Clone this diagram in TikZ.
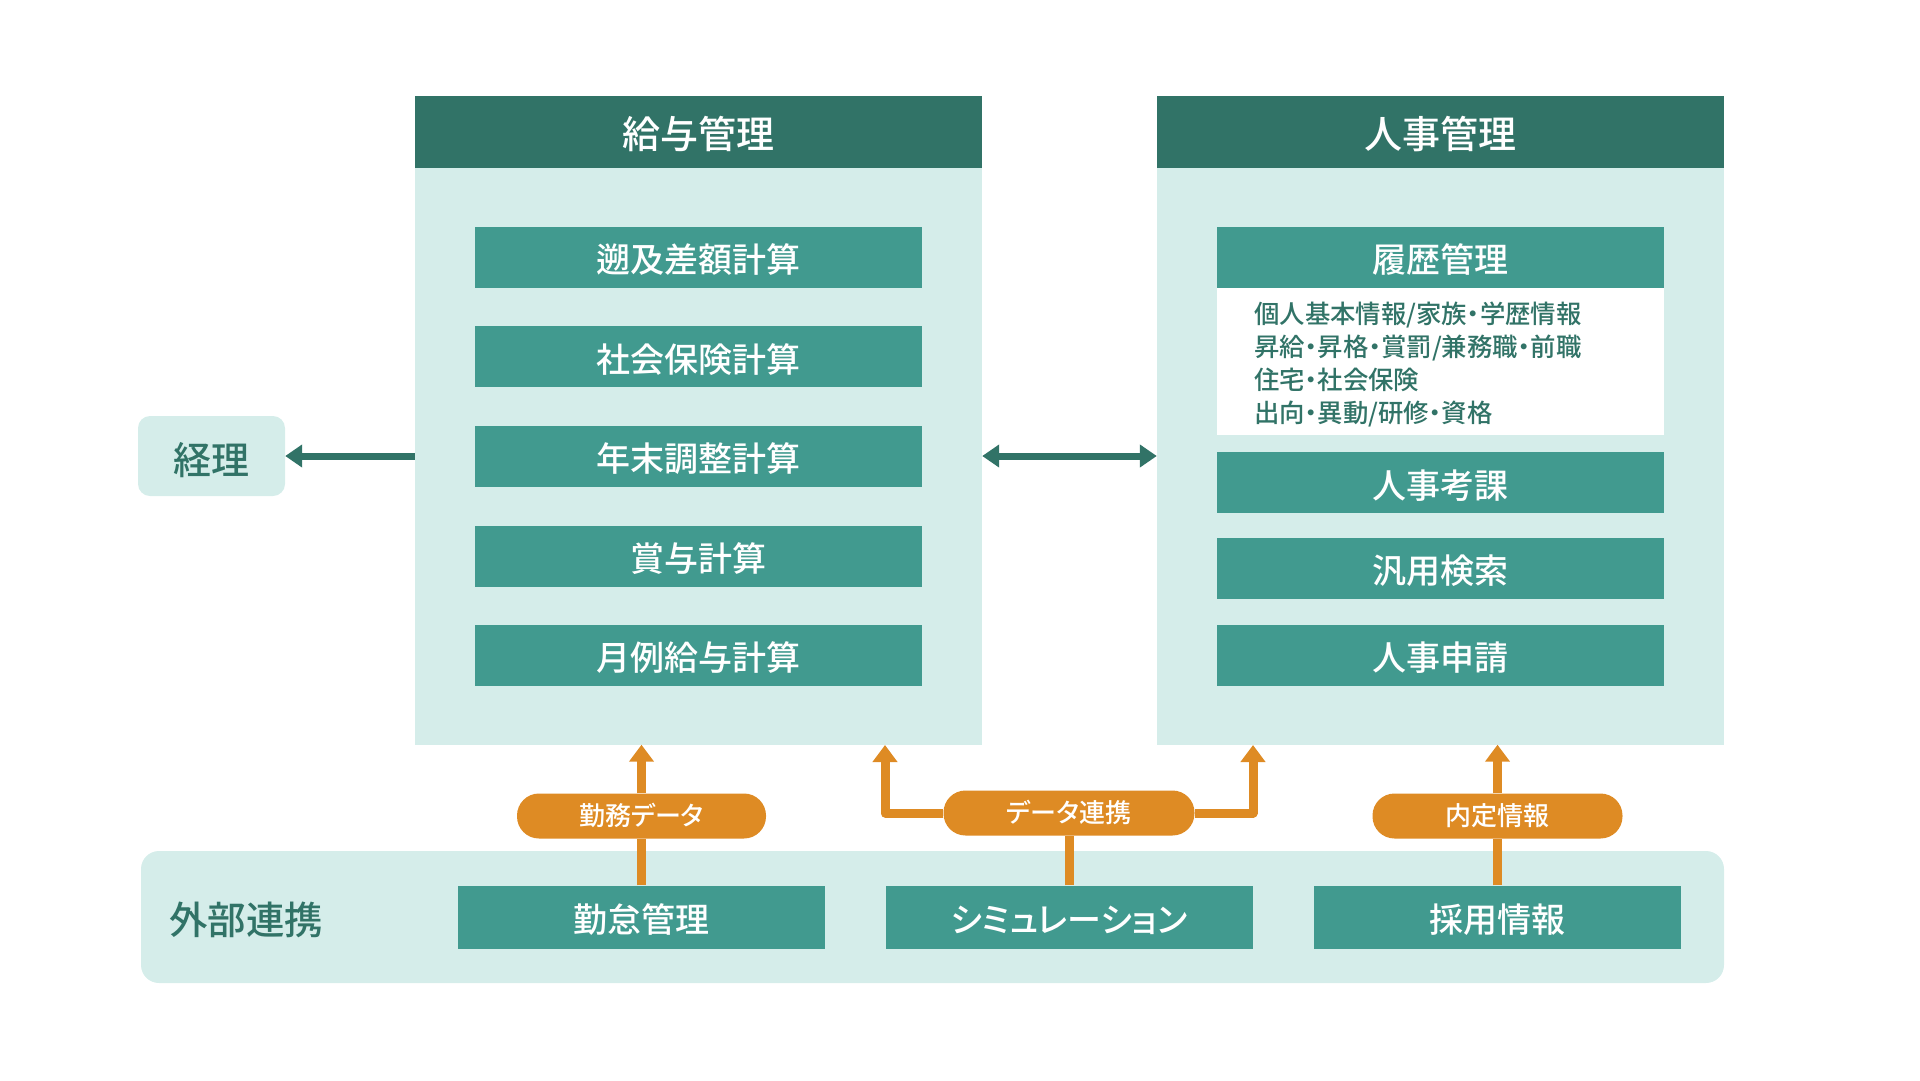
\documentclass[tikz,border=0pt]{standalone}
\usepackage{fontspec}
\setmainfont{Noto Sans CJK JP}[BoldFont={Noto Sans CJK JP Medium}, RawFeature=+palt]
\usetikzlibrary{arrows.meta}
\definecolor{dk}{HTML}{317367}
\definecolor{md}{HTML}{419A8F}
\definecolor{lt}{HTML}{D5EDEA}
\definecolor{og}{HTML}{DE8B24}
\tikzset{
  panel/.style={fill=lt, inner sep=0, minimum width=567pt, minimum height=649pt},
  head/.style={fill=dk, text=white, inner sep=0, text height=34.3pt, text depth=0pt, minimum width=567pt, minimum height=72.5pt, font=\fontsize{38}{42}\selectfont\bfseries},
  item/.style={fill=md, text=white, inner sep=0, text height=31.5pt, text depth=0pt, minimum width=447pt, minimum height=61pt, font=\fontsize{34}{38}\selectfont\bfseries},
  bitem/.style={fill=md, text=white, inner sep=0, text height=31pt, text depth=0pt, minimum width=367pt, minimum height=63pt, font=\fontsize{34}{38}\selectfont\bfseries},
  pill/.style={fill=og, text=white, inner sep=0, text height=19.3pt, text depth=0pt, minimum height=45pt, rounded corners=22pt, font=\fontsize{26}{30}\selectfont\bfseries},
  oarrow/.style={draw=og, line width=9pt, -{Triangle[width=24pt,length=17pt]}},
  oline/.style={draw=og, line width=9pt},
  darrow/.style={draw=dk, line width=7pt},
}
\begin{document}
\begin{tikzpicture}[x=1pt,y=-1pt]
\useasboundingbox (0,0) rectangle (1920,1080);
% panels
\node[panel] (kyuyo) at (698.5,420) {};
\node[head, anchor=north] (kyuyoh) at (kyuyo.north) {給与管理};
\node[panel] (jinji) at (1440.5,420) {};
\node[head, anchor=north] (jinjih) at (jinji.north) {人事管理};
% left items
\node[item] (sokyu) at (698.5,257) {遡及差額計算};
\node[item] (shaho) at (698.5,356.5) {社会保険計算};
\node[item] (nenmatsu) at (698.5,456) {年末調整計算};
\node[item] (shoyo) at (698.5,556) {賞与計算};
\node[item] (getsurei) at (698.5,655) {月例給与計算};
% right items
\node[fill=white, inner sep=0, minimum width=447pt, minimum height=208pt, anchor=north] (rirekibox) at (1440.5,226.5) {};
\node[item, anchor=north] (rireki) at (rirekibox.north) {履歴管理};
\node[anchor=north west, inner sep=0, text=dk, align=left, font=\fontsize{25.4}{33}\selectfont\bfseries] (rirekitxt) at (1254,302) {個人基本情報/家族・学歴情報\\昇給・昇格・賞罰/兼務職・前職\\住宅・社会保険\\出向・異動/研修・資格};
\node[item] (koka) at (1440.5,482.5) {人事考課};
\node[item] (kensaku) at (1440.5,568) {汎用検索};
\node[item] (shinsei) at (1440.5,655) {人事申請};
% keiri
\node[fill=lt, rounded corners=12pt, inner sep=0, text height=37.7pt, text depth=0pt, minimum width=147pt, minimum height=80pt, text=dk, font=\fontsize{38}{42}\selectfont\bfseries] (keiri) at (211.5,456) {経理};
% bottom panel
\node[fill=lt, rounded corners=18pt, inner sep=0, minimum width=1583pt, minimum height=132pt] (gaibu) at (932.5,917) {};
\node[text=dk, inner sep=0, text height=28.9pt, text depth=0pt, font=\fontsize{38.5}{42}\selectfont\bfseries] (gaibut) at (246,919.6) {外部連携};
\node[bitem] (kintai) at (641.5,917) {勤怠管理};
\node[bitem] (sim) at (1069,917) {シミュレーション};
\node[bitem] (saiyo) at (1497.5,917) {採用情報};
% dark arrows
\coordinate (kl) at (kyuyo.west |- keiri);
\draw[darrow, -{Triangle[width=22pt,length=17pt]}] (kl) -- (keiri.east);
\coordinate (ml) at (kyuyo.east |- nenmatsu);
\coordinate (mr) at (jinji.west |- nenmatsu);
\draw[darrow, {Triangle[width=22pt,length=17pt]}-{Triangle[width=22pt,length=17pt]}] (ml) -- (mr);
% orange connectors
\node[pill, minimum width=249pt] (p1) at (641.5,816) {勤務データ};
\node[pill, minimum width=251pt] (p2) at (1069,813) {データ連携};
\node[pill, minimum width=250pt] (p3) at (1497.5,816) {内定情報};
\coordinate (t1) at (kintai.north |- kyuyo.south);
\coordinate (t2a) at (885,745);
\coordinate (t2b) at (1253,745);
\coordinate (t3) at (saiyo.north |- jinji.south);
\draw[oline] (kintai.north) -- (p1.south);
\draw[oarrow] (p1.north) -- (t1);
\draw[oline] (sim.north) -- (p2.south);
\draw[oarrow, line join=round] (p2.west) -- (t2a |- p2.west) -- (t2a);
\draw[oarrow, line join=round] (p2.east) -- (t2b |- p2.east) -- (t2b);
\draw[oline] (saiyo.north) -- (p3.south);
\draw[oarrow] (p3.north) -- (t3);
\end{tikzpicture}
\end{document}
